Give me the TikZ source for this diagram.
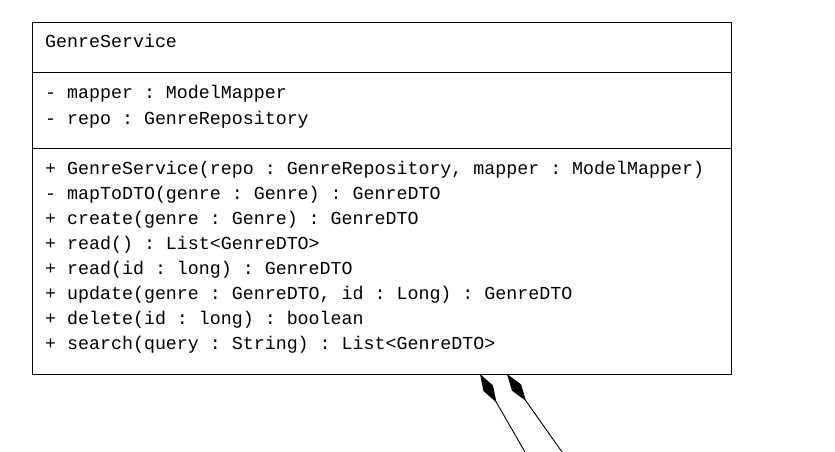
\documentclass[tikz,border=0pt]{standalone}
\usepackage{fontspec}
\setmonofont{Liberation Mono}
\usetikzlibrary{arrows.meta}
\tikzset{
  member/.style={anchor=base west, inner sep=0pt, font=\ttfamily\fontsize{18.3}{25}\selectfont},
  compose/.style={{Diamond[length=33pt,width=11pt]}-, line width=0.9pt}
}
\begin{document}
\begin{tikzpicture}[x=1pt,y=-1pt]
  \useasboundingbox (0,0) rectangle (835,452);
  % class box
  \node[draw, line width=0.9pt, rectangle, minimum width=699pt, minimum height=352pt, inner sep=0pt, anchor=north west] (cls) at (32,22) {};
  \draw[line width=0.9pt] (32,72) -- (731,72);
  \draw[line width=0.9pt] (32,148) -- (731,148);
  \node[member] (name) at (45,48) {GenreService};
  \node[member] (a1) at (45,99) {- mapper : ModelMapper};
  \node[member] (a2) at (45,124) {- repo : GenreRepository};
  \node[member] (m1) at (45,174) {+ GenreService(repo : GenreRepository, mapper : ModelMapper)};
  \node[member] (m2) at (45,199) {- mapToDTO(genre : Genre) : GenreDTO};
  \node[member] (m3) at (45,224) {+ create(genre : Genre) : GenreDTO};
  \node[member] (m4) at (45,249) {+ read() : List<GenreDTO>};
  \node[member] (m5) at (45,274) {+ read(id : long) : GenreDTO};
  \node[member] (m6) at (45,299) {+ update(genre : GenreDTO, id : Long) : GenreDTO};
  \node[member] (m7) at (45,324) {+ delete(id : long) : boolean};
  \node[member] (m8) at (45,349) {+ search(query : String) : List<GenreDTO>};
  % compositions
  \coordinate (c1) at (480,374);
  \coordinate (c2) at (507,374);
  \coordinate (e1) at (525,452);
  \coordinate (e2) at (562,452);
  \draw[compose] (c1) -- (e1);
  \draw[compose] (c2) -- (e2);
\end{tikzpicture}
\end{document}
